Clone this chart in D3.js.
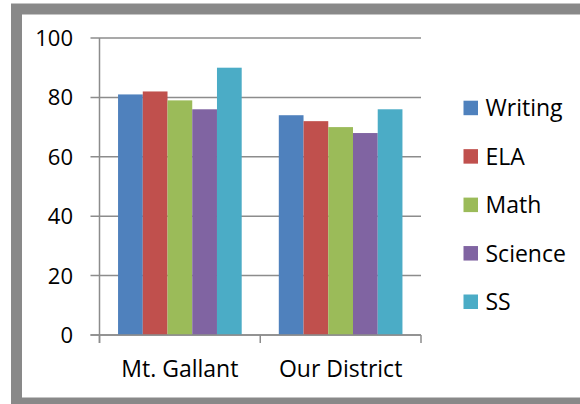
<!DOCTYPE html>
<html>
<head>
<meta charset="utf-8">
<script src="https://cdn.jsdelivr.net/npm/d3@7"></script>
<style>
  html, body { margin: 0; padding: 0; background: #fff; }
  svg { display: block; }
  text { font-family: "Open Sans", sans-serif; fill: #000; }
</style>
</head>
<body>
<svg id="chart" width="580" height="404"></svg>
<script>
const categories = ["Mt. Gallant", "Our District"];
const seriesNames = ["Writing", "ELA", "Math", "Science", "SS"];
const writing = [81, 74];
const ela = [82, 72];
const math = [79, 70];
const science = [76, 68];
const ss = [90, 76];
const yTicks = [0, 20, 40, 60, 80, 100];
const colors = ["#4F81BD", "#C0504D", "#9BBB59", "#8064A2", "#4BACC6"];

const seriesValues = [writing, ela, math, science, ss];
const svg = d3.select("#chart");

// outer frame
svg.append("rect")
  .attr("x", 16.5).attr("y", 9)
  .attr("width", 600).attr("height", 394)
  .attr("fill", "#fff")
  .attr("stroke", "#898989")
  .attr("stroke-width", 11);

const plot = { left: 99.5, right: 421, top: 38, bottom: 335 };

const x0 = d3.scaleBand().domain(categories).range([plot.left, plot.right]).paddingInner(0).paddingOuter(0);
const x1 = d3.scaleBand().domain(seriesNames).range([0, x0.bandwidth()]).paddingOuter(0.75).paddingInner(0);
const y = d3.scaleLinear().domain([0, 100]).range([plot.bottom, plot.top]);

// gridlines
svg.append("g")
  .selectAll("line")
  .data(yTicks)
  .join("line")
  .attr("x1", plot.left - 9).attr("x2", plot.right)
  .attr("y1", d => y(d)).attr("y2", d => y(d))
  .attr("stroke", "#8c8c8c").attr("stroke-width", 1.5);

// y tick labels
svg.append("g")
  .selectAll("text")
  .data(yTicks)
  .join("text")
  .attr("x", 73).attr("y", d => y(d))
  .attr("dy", "0.36em")
  .attr("text-anchor", "end")
  .style("font-size", "22px")
  .text(d => d);

// bars
const groups = svg.append("g")
  .selectAll("g")
  .data(categories)
  .join("g")
  .attr("transform", c => `translate(${x0(c)},0)`);

groups.selectAll("rect")
  .data((c, ci) => seriesNames.map((s, si) => ({ s, si, v: seriesValues[si][ci] })))
  .join("rect")
  .attr("x", d => x1(d.s))
  .attr("width", x1.bandwidth())
  .attr("y", d => y(d.v))
  .attr("height", d => y(0) - y(d.v))
  .attr("fill", d => colors[d.si]);

// y axis line
svg.append("line")
  .attr("x1", plot.left).attr("x2", plot.left)
  .attr("y1", plot.top).attr("y2", plot.bottom + 8)
  .attr("stroke", "#8c8c8c").attr("stroke-width", 1.5);

// x axis line and ticks
svg.append("line")
  .attr("x1", plot.left - 9).attr("x2", plot.right)
  .attr("y1", plot.bottom).attr("y2", plot.bottom)
  .attr("stroke", "#8c8c8c").attr("stroke-width", 1.5);

const xTickPos = categories.map(c => x0(c)).concat([x0(categories[categories.length - 1]) + x0.bandwidth()]);
svg.append("g")
  .selectAll("line")
  .data(xTickPos)
  .join("line")
  .attr("x1", d => d).attr("x2", d => d)
  .attr("y1", plot.bottom).attr("y2", plot.bottom + 8)
  .attr("stroke", "#8c8c8c").attr("stroke-width", 1.5);

// x labels
svg.append("g")
  .selectAll("text")
  .data(categories)
  .join("text")
  .attr("x", c => x0(c) + x0.bandwidth() / 2)
  .attr("y", 377)
  .attr("text-anchor", "middle")
  .style("font-size", "23px")
  .text(c => c);

// legend
const legendY = d3.scalePoint().domain(seriesNames).range([108, 301.8]);
const legend = svg.append("g")
  .selectAll("g")
  .data(seriesNames)
  .join("g")
  .attr("transform", s => `translate(463.5,${legendY(s)})`);
legend.append("rect")
  .attr("x", 0).attr("y", -7.3)
  .attr("width", 14.5).attr("height", 14.5)
  .attr("fill", (s, i) => colors[i]);
legend.append("text")
  .attr("x", 22).attr("y", 0)
  .attr("dy", "0.36em")
  .style("font-size", "23px")
  .text(s => s);
</script>
</body>
</html>
